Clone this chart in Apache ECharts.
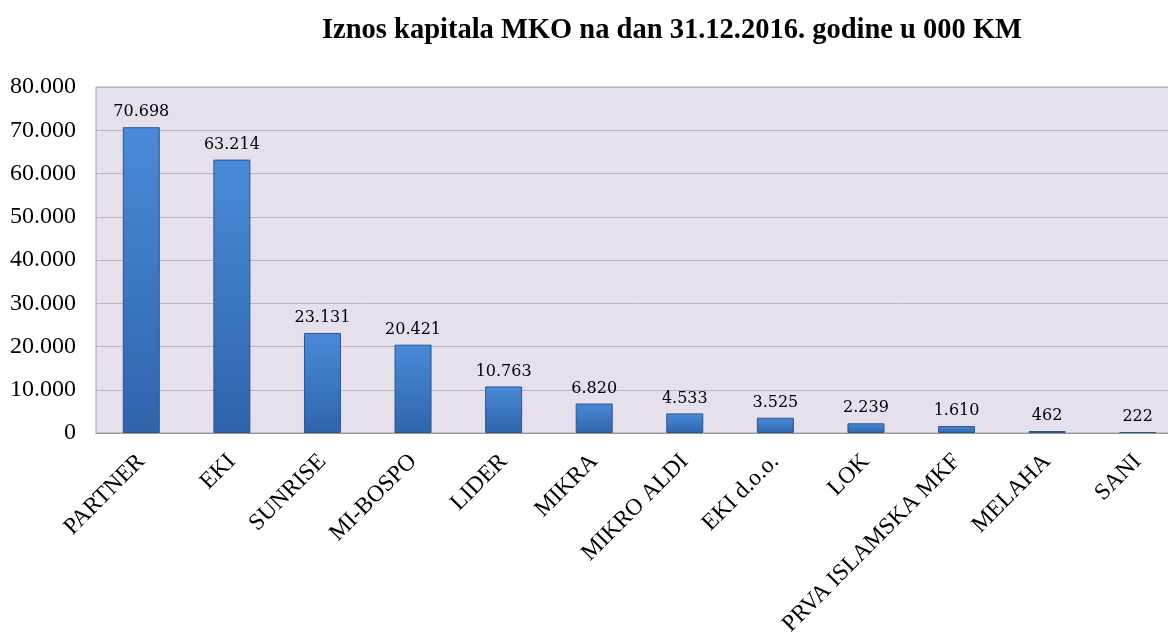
<!DOCTYPE html>
<html><head><meta charset="utf-8">
<script src="https://cdn.jsdelivr.net/npm/echarts@6/dist/echarts.min.js"></script>
<style>html,body{margin:0;padding:0;background:#fff;overflow:hidden}#c{width:1168px;height:634px}</style>
</head><body><div id="c"></div>
<script>
const title = 'Iznos kapitala MKO na dan 31.12.2016. godine u 000 KM';
const categories = ['PARTNER','EKI','SUNRISE','MI-BOSPO','LIDER','MIKRA','MIKRO ALDI','EKI d.o.o.','LOK','PRVA ISLAMSKA MKF','MELAHA','SANI'];
const values = [70698, 63214, 23131, 20421, 10763, 6820, 4533, 3525, 2239, 1610, 462, 222];
const yMin = 0, yMax = 80000, yStep = 10000;

function fmt(v){ return String(v).replace(/\B(?=(\d{3})+(?!\d))/g, '.'); }

const chart = echarts.init(document.getElementById('c'));
chart.setOption({
  animation: false,
  title: {
    text: title, left: 667, textAlign: 'center', top: 11,
    textStyle: {fontFamily: 'Liberation Serif', fontWeight: 'bold', fontSize: 28.5, color: '#000'}
  },
  grid: {left: 96, right: -15, top: 87, bottom: 201, containLabel: false, outerBoundsMode: 'none',
    show: true, backgroundColor: '#e5e0ec', borderColor: '#a0a0a0', borderWidth: 1},
  xAxis: {
    type: 'category', data: categories,
    axisLine: {lineStyle: {color: '#999'}},
    axisTick: {show: false},
    axisLabel: {rotate: 45, interval: 0, margin: 25, fontFamily: 'Liberation Serif', fontSize: 23.5, color: '#000'}
  },
  yAxis: {
    type: 'value', min: yMin, max: yMax, interval: yStep,
    axisLine: {show: false}, axisTick: {show: false},
    splitLine: {lineStyle: {color: '#b8b8b8'}},
    axisLabel: {formatter: fmt, margin: 20, fontFamily: 'Liberation Serif', fontSize: 24, color: '#000'}
  },
  series: [{
    type: 'bar', data: values, barWidth: 37,
    itemStyle: {
      color: new echarts.graphic.LinearGradient(0, 0, 0, 1, [
        {offset: 0, color: '#4a8ad8'}, {offset: 1, color: '#2f64ab'}
      ]),
      borderColor: '#2a5690', borderWidth: 1
    },
    label: {show: true, position: 'top', distance: 7, formatter: p => fmt(p.value),
      fontFamily: 'DejaVu Serif', fontSize: 16, color: '#000'}
  }]
});
</script></body></html>
